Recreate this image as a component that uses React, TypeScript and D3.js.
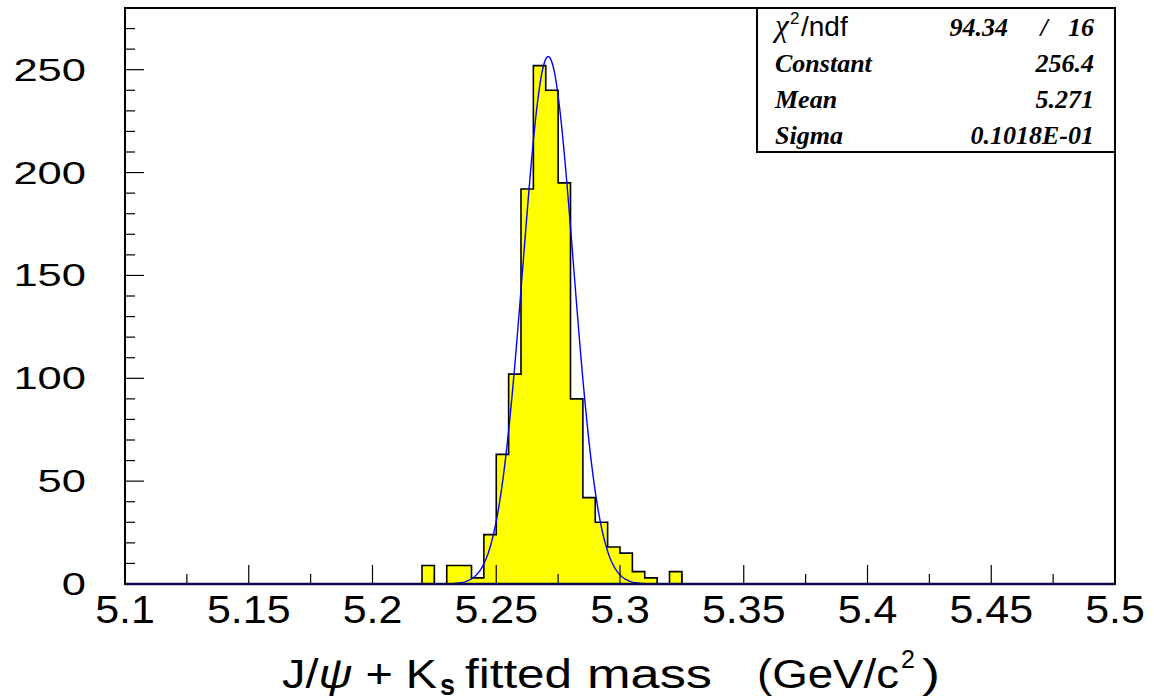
import React from "react";
import * as d3 from "d3";

// histogram contents, bins of 0.005 GeV (only the filled region, the rest is empty)
const binLow = [
  5.22, 5.225, 5.23, 5.235, 5.24, 5.245, 5.25, 5.255, 5.26, 5.265, 5.27,
  5.275, 5.28, 5.285, 5.29, 5.295, 5.3, 5.305, 5.31, 5.315, 5.32,
];
const binCounts = [
  9, 0, 9, 9, 3, 24, 63, 102, 192, 252, 240, 195, 90, 42, 30, 18, 15, 6, 3, 0, 6,
];
const binWidth = 0.005;

// gaussian fit from the stats box
const fitConstant = 256.4;
const fitMean = 5.271;
const fitSigma = 0.01018;

const xTickValues = [5.1, 5.15, 5.2, 5.25, 5.3, 5.35, 5.4, 5.45, 5.5];
const xTickLabels = ["5.1", "5.15", "5.2", "5.25", "5.3", "5.35", "5.4", "5.45", "5.5"];
const yTickValues = [0, 50, 100, 150, 200, 250];

const statLabels = ["Constant", "Mean", "Sigma"];
const statValues = ["256.4", "5.271", "0.1018E-01"];

const W = 1154;
const H = 700;
const left = 125;
const right = 1115;
const top = 8;
const bottom = 584;

const App = () => {
  const x = d3.scaleLinear().domain([5.1, 5.5]).range([left, right]);
  const y = d3.scaleLinear().domain([0, 280]).range([bottom, top]);

  // step contour like ROOT draws it
  const first = binLow[0];
  const last = binLow[binLow.length - 1] + binWidth;
  const pts: [number, number][] = [
    [5.1, 0],
    [first, 0],
  ];
  binLow.forEach((lo, i) => {
    pts.push([lo, binCounts[i]]);
    pts.push([lo + binWidth, binCounts[i]]);
  });
  pts.push([last, 0]);
  pts.push([5.5, 0]);
  const line = d3
    .line<[number, number]>()
    .x((d) => x(d[0]))
    .y((d) => y(d[1]));
  const histPath = line(pts) || "";

  const gauss = (m: number) =>
    fitConstant * Math.exp(-((m - fitMean) ** 2) / (2 * fitSigma * fitSigma));
  const curvePts: [number, number][] = d3
    .range(5.1, 5.5001, 0.0004)
    .map((m) => [m, gauss(m)]);
  const curvePath = line(curvePts) || "";

  const xMinor = d3.range(0, 17).map((i) => 5.1 + i * 0.025);
  const yMinor = d3.range(0, 281, 10);

  const sans = "'Liberation Sans', Arial, sans-serif";
  const serif = "'Liberation Serif', 'Times New Roman', serif";

  const rowBase = (i: number) => top + 28 + i * 36;

  return (
    <svg
      width={W}
      height={H}
      style={{ position: "absolute", left: 0, top: 0, background: "#fff" }}
    >
      <defs>
        <clipPath id="plotClip">
          <rect x={left} y={top} width={right - left} height={bottom - top} />
        </clipPath>
      </defs>

      {/* histogram */}
      <path d={histPath + "Z"} fill="#ffff00" stroke="none" />
      <path d={histPath} fill="none" stroke="#000" strokeWidth={1.6} />

      {/* fit */}
      <path
        d={curvePath}
        fill="none"
        stroke="#0000ff"
        strokeWidth={1.4}
        clipPath="url(#plotClip)"
      />

      {/* x ticks */}
      {xMinor.map((v, i) => (
        <line
          key={"xt" + i}
          x1={x(v)}
          x2={x(v)}
          y1={bottom}
          y2={bottom - (i % 2 === 0 ? 19 : 10)}
          stroke="#000"
          strokeWidth={1.2}
        />
      ))}
      {/* y ticks */}
      {yMinor.map((v) => (
        <line
          key={"yt" + v}
          x1={left}
          x2={left + (v % 50 === 0 ? 19 : 10)}
          y1={y(v)}
          y2={y(v)}
          stroke="#000"
          strokeWidth={1.2}
        />
      ))}

      {/* frame */}
      <rect
        x={left}
        y={top}
        width={right - left}
        height={bottom - top}
        fill="none"
        stroke="#000"
        strokeWidth={2}
      />
      <line x1={left} x2={right} y1={bottom} y2={bottom} stroke="#0b0b4a" strokeWidth={2.4} />

      {/* y labels */}
      {yTickValues.map((v) => (
        <text
          key={"yl" + v}
          transform={`translate(86,${y(v) + 11}) scale(1.36,1)`}
          textAnchor="end"
          fontFamily={sans}
          fontSize={32}
          fill="#000"
        >
          {v}
        </text>
      ))}

      {/* x labels */}
      {xTickValues.map((v, i) => (
        <text
          key={"xl" + v}
          transform={`translate(${x(v)},623) scale(1.1,1)`}
          textAnchor="middle"
          fontFamily={sans}
          fontSize={39}
          fill="#000"
        >
          {xTickLabels[i]}
        </text>
      ))}

      {/* axis title */}
      <g fontFamily={sans} fill="#000">
        <text x={282} y={688} fontSize={41} textLength={155} lengthAdjust="spacingAndGlyphs">
          J/<tspan fontStyle="italic">ψ</tspan> + K
        </text>
        <text x={440} y={695} fontSize={30} fontWeight="bold" textLength={15} lengthAdjust="spacingAndGlyphs">
          s
        </text>
        <text x={465} y={688} fontSize={41} textLength={107} lengthAdjust="spacingAndGlyphs">
          fitted
        </text>
        <text x={587} y={688} fontSize={41} textLength={125} lengthAdjust="spacingAndGlyphs">
          mass
        </text>
        <text x={757} y={688} fontSize={41} textLength={142} lengthAdjust="spacingAndGlyphs">
          (GeV/c
        </text>
        <text x={901} y={668} fontSize={25}>
          2
        </text>
        <text x={922} y={688} fontSize={41} textLength={18} lengthAdjust="spacingAndGlyphs">
          )
        </text>
      </g>

      {/* stats box */}
      <rect x={757} y={top} width={right - 757} height={144} fill="#fff" stroke="#000" strokeWidth={2} />
      <g fill="#000">
        <text x={775} y={rowBase(0)} fontFamily={serif} fontStyle="italic" fontSize={31}>
          χ
        </text>
        <text x={790} y={rowBase(0) - 12} fontFamily={sans} fontSize={17}>
          2
        </text>
        <text x={801} y={rowBase(0)} fontFamily={sans} fontSize={28}>
          /ndf
        </text>
        <text x={1008} y={rowBase(0)} textAnchor="end" fontFamily={serif} fontStyle="italic" fontWeight="bold" fontSize={26}>
          94.34
        </text>
        <text x={1044} y={rowBase(0)} textAnchor="middle" fontFamily={serif} fontStyle="italic" fontWeight="bold" fontSize={26}>
          /
        </text>
        <text x={1094} y={rowBase(0)} textAnchor="end" fontFamily={serif} fontStyle="italic" fontWeight="bold" fontSize={26}>
          16
        </text>
        {statLabels.map((s, i) => (
          <g key={s}>
            <text x={775} y={rowBase(i + 1)} fontFamily={serif} fontStyle="italic" fontWeight="bold" fontSize={26}>
              {s}
            </text>
            <text x={1094} y={rowBase(i + 1)} textAnchor="end" fontFamily={serif} fontStyle="italic" fontWeight="bold" fontSize={26}>
              {statValues[i]}
            </text>
          </g>
        ))}
      </g>
    </svg>
  );
};

export default App;
